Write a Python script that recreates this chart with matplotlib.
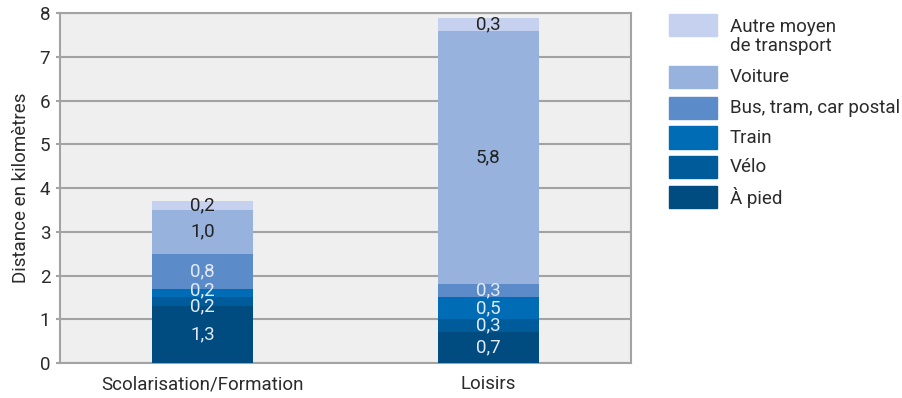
import numpy as np
import matplotlib.pyplot as plt
from matplotlib.patches import Rectangle

plt.rcParams['font.family'] = ['Roboto', 'DejaVu Sans']

categories = ["Scolarisation/Formation", "Loisirs"]
modes = ["À pied", "Vélo", "Train", "Bus, tram, car postal", "Voiture", "Autre moyen\nde transport"]
values = {
    "À pied": [1.3, 0.7],
    "Vélo": [0.2, 0.3],
    "Train": [0.2, 0.5],
    "Bus, tram, car postal": [0.8, 0.3],
    "Voiture": [1.0, 5.8],
    "Autre moyen\nde transport": [0.2, 0.3],
}
colors = ["#004b7f", "#005b9b", "#006cb5", "#5b8cc9", "#97b2dc", "#c5d1ee"]
label_colors = ["#e3eaf5", "#e3eaf5", "#e3eaf5", "#e3eaf5", "#222222", "#222222"]
# small vertical nudges (points) so the thin segments' labels don't collide
nudge = {("Vélo", 0): -3.5, ("Train", 0): 2.0}

FS = 13.5
fig = plt.figure(figsize=(9.02, 3.98), dpi=100)
ax = fig.add_axes([0.0665, 0.088, 0.633, 0.879])
ax.set_facecolor("#efefef")

x = np.arange(len(categories))
bottom = np.zeros(len(categories))
for mode, c, lc in zip(modes, colors, label_colors):
    v = np.array(values[mode])
    ax.bar(x, v, width=0.354, bottom=bottom, color=c, zorder=3)
    for i, (xi, vi, bi) in enumerate(zip(x, v, bottom)):
        ax.annotate(f"{vi:.1f}".replace(".", ","), (xi, bi + vi / 2),
                    xytext=(0, nudge.get((mode, i), 0)), textcoords="offset points",
                    ha="center", va="center", fontsize=FS, color=lc, zorder=4)
    bottom += v

ax.set_xlim(-0.5, 1.5)
ax.set_ylim(0, 8)
ax.set_yticks(range(0, 9))
ax.set_xticks(x)
ax.set_xticklabels(categories)
ax.yaxis.grid(True, color="#a3a3a3", linewidth=1.5, zorder=1)
ax.set_axisbelow(True)
for side in ["left", "right", "top", "bottom"]:
    ax.spines[side].set_color("#a3a3a3")
    ax.spines[side].set_linewidth(1.5)
ax.tick_params(axis="y", length=3, color="#a3a3a3", width=1.5, labelsize=FS, labelcolor="#2b2b2b", pad=4)
ax.tick_params(axis="x", length=0, labelsize=FS, labelcolor="#2b2b2b", pad=9)
ax.set_ylabel("Distance en kilomètres", fontsize=FS, color="#2b2b2b", labelpad=7)

# legend drawn by hand, top entry first
leg_rows = [(14, 36), (66, 88), (97, 119), (126, 149), (156, 178), (186, 208)]
W, H = 902, 398
for (y0, y1), mode, c in zip(leg_rows, modes[::-1], colors[::-1]):
    fig.add_artist(Rectangle((669 / W, 1 - y1 / H), 48 / W, (y1 - y0) / H,
                             transform=fig.transFigure, color=c))
    if "\n" in mode:
        fig.text(730 / W, 1 - 18 / H, mode, fontsize=FS, color="#2b2b2b",
                 va="top", ha="left", linespacing=1.1)
    else:
        fig.text(730 / W, 1 - (y0 + y1) / 2 / H, mode, fontsize=FS, color="#2b2b2b",
                 va="center", ha="left")

fig.savefig("out.png", dpi=100)
